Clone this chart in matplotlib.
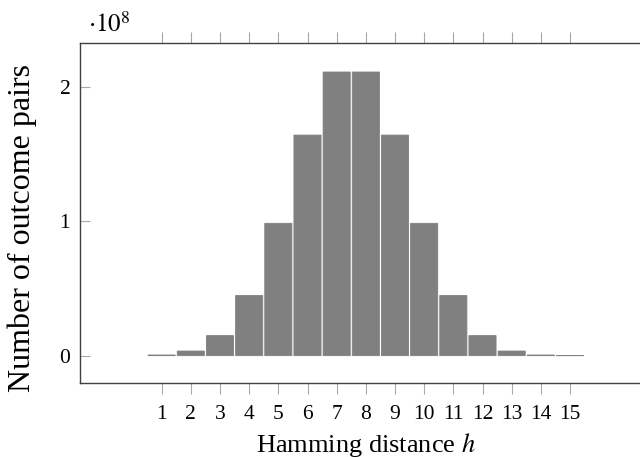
import matplotlib
matplotlib.use("Agg")
import matplotlib.pyplot as plt

# Data (counts in units of 1e8)
hamming = [1, 2, 3, 4, 5, 6, 7, 8, 9, 10, 11, 12, 13, 14, 15]
pairs_e8 = [0.0049, 0.0344, 0.149, 0.447, 0.984, 1.640, 2.109, 2.109,
            1.640, 0.984, 0.447, 0.149, 0.0344, 0.0049, 0.0003]
ytick_vals = [0, 1, 2]

plt.rcParams['font.family'] = ['Liberation Serif', 'DejaVu Serif']
plt.rcParams['mathtext.fontset'] = 'stix'

fig = plt.figure(figsize=(6.4, 4.57), dpi=100)
ax = fig.add_axes([0.125, 0.162, 0.875, 0.7446])

bars = ax.bar(hamming, pairs_e8, width=0.93, color='#808080', edgecolor='#808080',
              linewidth=0.6, zorder=2)
for b in bars:
    b.set_snap(False)

ax.set_xlim(-1.80, 17.4)
ax.set_ylim(-0.203, 2.327)

spine_c = '#404040'
for s in ['left', 'bottom', 'top']:
    ax.spines[s].set_color(spine_c)
    ax.spines[s].set_linewidth(1.0)
ax.spines['right'].set_visible(False)

ax.set_xticks(hamming)
ax.set_xticklabels([str(h) for h in hamming])
ax.set_yticks(ytick_vals)
ax.set_yticklabels([str(v) for v in ytick_vals])

ax.tick_params(axis='x', which='both', direction='out', length=8, width=0.8,
               color='#a8a8a8', top=True, bottom=True, labeltop=False,
               labelsize=15.5, pad=8, labelcolor='black')
ax.tick_params(axis='y', which='both', direction='in', length=7, width=0.8,
               color='#a8a8a8', left=True, right=False,
               labelsize=15.5, pad=7, labelcolor='black')

fig.text(0.571, 0.012, r'Hamming distance $h$', ha='center', va='baseline',
         fontsize=19)
fig.text(0.034, 0.502, 'Number of outcome pairs', rotation=90, ha='center',
         va='center', fontsize=23)
fig.text(0.1375, 0.931, r'$\cdot 10^{8}$', ha='left', va='baseline', fontsize=18)

fig.savefig('out.png', dpi=100)
